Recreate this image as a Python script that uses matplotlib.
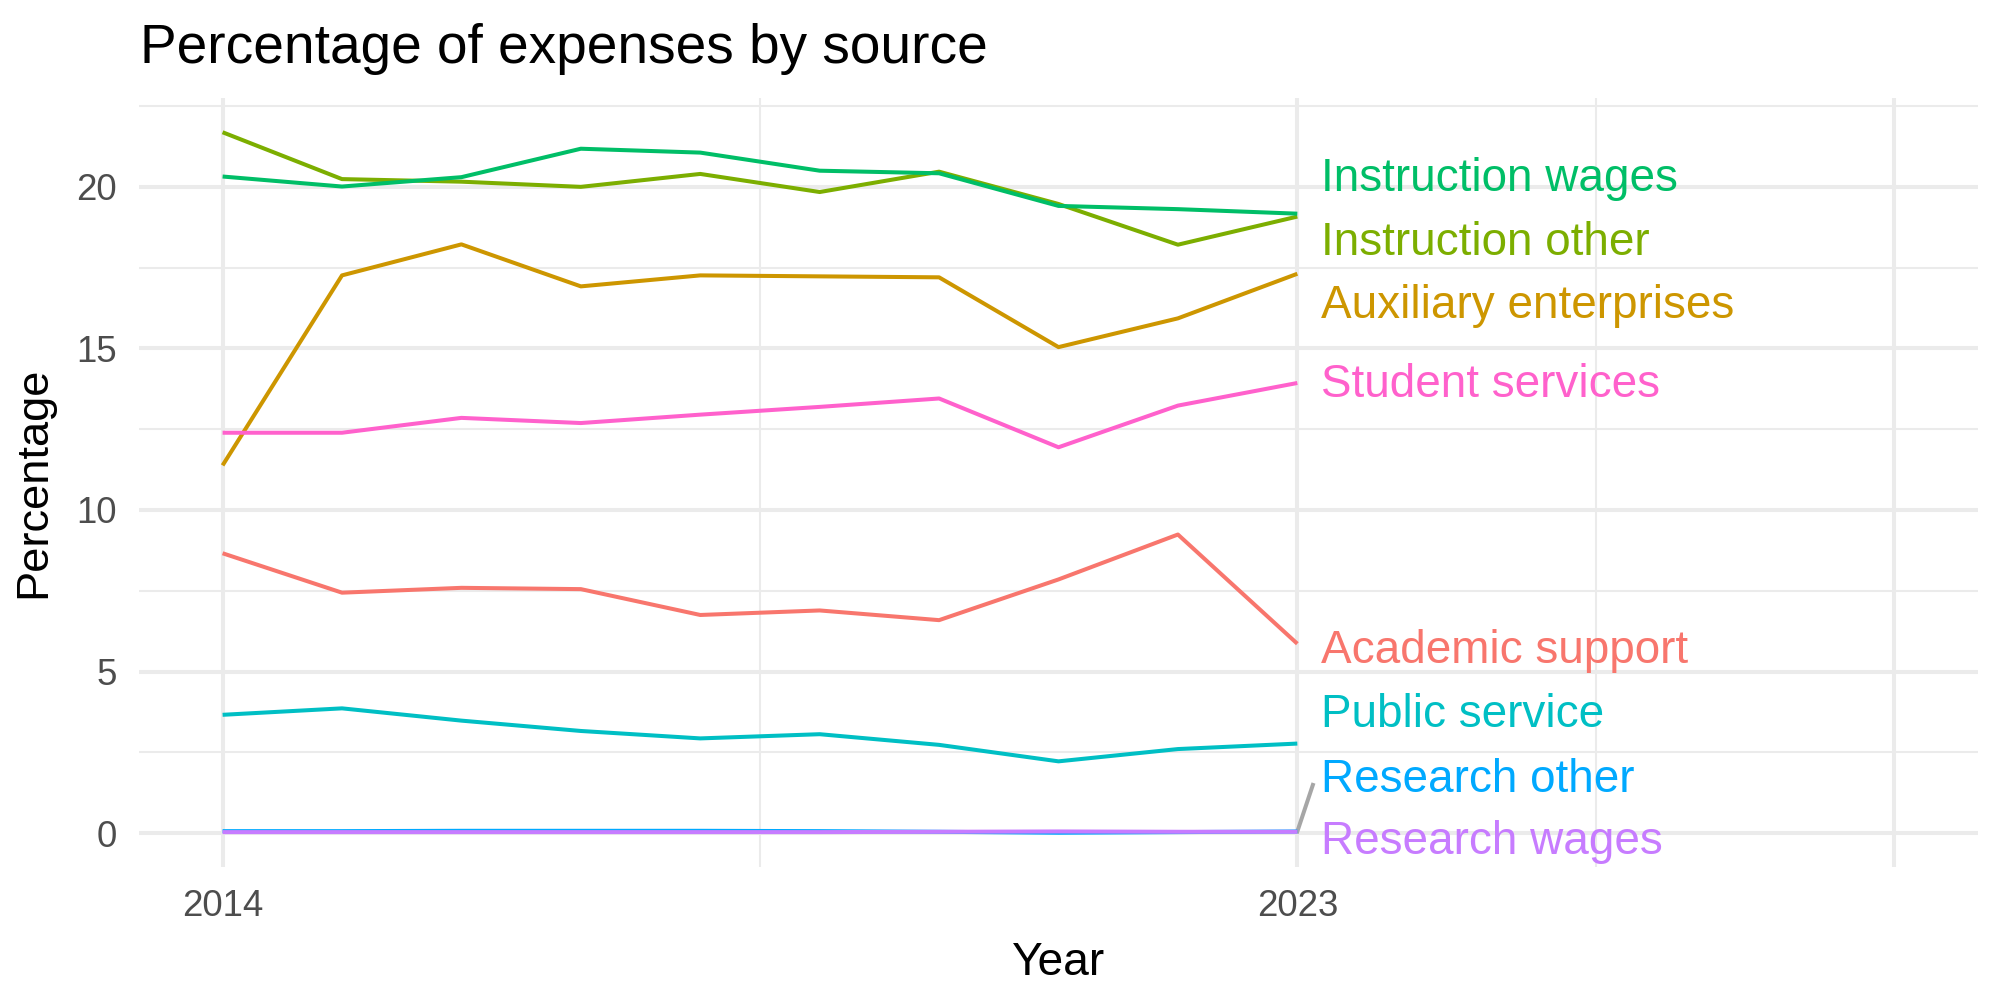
import matplotlib
matplotlib.use("Agg")
import matplotlib.pyplot as plt
import numpy as np

plt.rcParams['font.family'] = ['Liberation Sans', 'DejaVu Sans']

years = [2014, 2015, 2016, 2017, 2018, 2019, 2020, 2021, 2022, 2023]

sources = ["Academic support", "Auxiliary enterprises", "Instruction other",
           "Instruction wages", "Public service", "Research other",
           "Research wages", "Student services"]

academic_support = [8.66, 7.44, 7.59, 7.55, 6.75, 6.89, 6.59, 7.85, 9.24, 5.86]
auxiliary_enterprises = [11.38, 17.26, 18.22, 16.92, 17.26, 17.23, 17.20, 15.04, 15.93, 17.31]
instruction_other = [21.69, 20.24, 20.16, 20.00, 20.40, 19.84, 20.47, 19.47, 18.21, 19.08]
instruction_wages = [20.32, 20.01, 20.30, 21.18, 21.06, 20.50, 20.42, 19.41, 19.31, 19.17]
public_service = [3.66, 3.86, 3.48, 3.16, 2.93, 3.06, 2.73, 2.22, 2.60, 2.77]
research_other = [0.06, 0.06, 0.07, 0.07, 0.07, 0.06, 0.04, 0.01, 0.03, 0.05]
research_wages = [0.03, 0.03, 0.03, 0.03, 0.03, 0.03, 0.04, 0.05, 0.04, 0.04]
student_services = [12.39, 12.39, 12.85, 12.69, 12.95, 13.19, 13.45, 11.94, 13.23, 13.93]

series = [academic_support, auxiliary_enterprises, instruction_other,
          instruction_wages, public_service, research_other,
          research_wages, student_services]

# ggplot hue palette for 8 groups
colors = ["#F8766D", "#CD9600", "#7CAE00", "#00BE67",
          "#00BFC4", "#00A9FF", "#C77CFF", "#FF61CC"]

# where the repelled labels ended up (value units)
label_y = [5.65, 16.3, 18.25, 20.24, 3.65, 1.64, -0.28, 13.88]


def MakePlot():
    fig = plt.figure(figsize=(10, 5), dpi=200)
    ax = fig.add_axes([0.0695, 0.133, 0.9195, 0.769])

    ax.set_xlim(2013.3, 2028.7)
    ax.set_ylim(-1.05, 22.75)

    # theme_minimal grid
    for v in [2014, 2023, 2028]:
        ax.axvline(v, color="#EBEBEB", lw=1.45, zorder=0)
    for v in [2018.5, 2025.5]:
        ax.axvline(v, color="#EBEBEB", lw=0.75, zorder=0)
    for v in [0, 5, 10, 15, 20]:
        ax.axhline(v, color="#EBEBEB", lw=1.45, zorder=0)
    for v in [2.5, 7.5, 12.5, 17.5, 22.5]:
        ax.axhline(v, color="#EBEBEB", lw=0.75, zorder=0)

    for name, vals, col, ly in zip(sources, series, colors, label_y):
        ax.plot(years, vals, color=col, lw=1.45, solid_capstyle="butt", zorder=2)
        ax.text(2023.2, ly, name, color=col, fontsize=16.5, va="center", ha="left", zorder=3)
        if name == "Research other":
            ax.plot([years[-1], 2023.13], [vals[-1], ly - 0.15], color="#A6A6A6", lw=1.45, zorder=1)

    ax.set_xticks([2014, 2023, 2028])
    ax.set_xticklabels(["2014", "2023", ""])
    ax.set_yticks([0, 5, 10, 15, 20])
    ax.tick_params(length=0, labelsize=13.2, labelcolor="#4D4D4D", pad=8)
    for s in ax.spines.values():
        s.set_visible(False)

    ax.set_xlabel("Year", fontsize=16.6, labelpad=6)
    ax.set_ylabel("Percentage", fontsize=16.3, labelpad=8)
    fig.text(0.07, 0.951, "Percentage of expenses by source", fontsize=19.8, va="center", ha="left")

    fig.savefig("out.png", dpi=200, facecolor="white")


def main():
    MakePlot()


if __name__ == "__main__":
    main()
